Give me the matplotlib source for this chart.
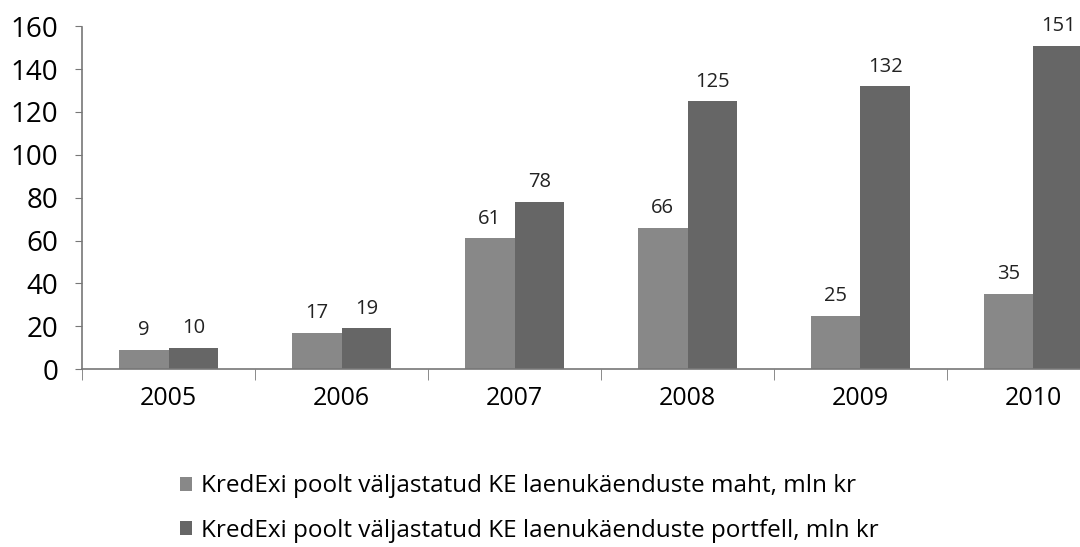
import numpy as np
import matplotlib.pyplot as plt

plt.rcParams['font.family'] = ['Open Sans', 'DejaVu Sans']

years = ['2005', '2006', '2007', '2008', '2009', '2010']
maht = [9, 17, 61, 66, 25, 35]
portfell = [10, 19, 78, 125, 132, 151]
labels = ['KredExi poolt väljastatud KE laenukäenduste maht, mln kr',
          'KredExi poolt väljastatud KE laenukäenduste portfell, mln kr']

fig = plt.figure(figsize=(10.8, 5.47), dpi=100)
ax = fig.add_axes([0.076, 0.325, 0.961, 0.627])

x = np.arange(len(years))
w = 0.287
b1 = ax.bar(x - w / 2, maht, w, color='#888888', label=labels[0])
b2 = ax.bar(x + w / 2, portfell, w, color='#666666', label=labels[1])

for bars in (b1, b2):
    for r in bars:
        ax.annotate(str(int(r.get_height())), (r.get_x() + r.get_width() / 2, r.get_height()),
                    xytext=(0, 7), textcoords='offset points', ha='center', va='bottom',
                    fontsize=14.5, color='#222222')

ax.set_xlim(-0.5, 5.5)
ax.set_ylim(0, 160)
ax.set_yticks(range(0, 161, 20))
ax.set_xticks(x)
ax.set_xticklabels(years)
ax.set_xticks(np.arange(-0.5, 5.6, 1), minor=True)
ax.tick_params(axis='x', which='major', length=0, pad=12, labelsize=18)
ax.tick_params(axis='x', which='minor', length=8, color='#777777', direction='out')
ax.tick_params(axis='y', length=5, color='#777777', labelsize=20, pad=12)

for s in ['top', 'right']:
    ax.spines[s].set_visible(False)
for s in ['left', 'bottom']:
    ax.spines[s].set_color('#777777')
    ax.spines[s].set_linestyle((0, (1, 1)))
    ax.spines[s].set_linewidth(1.2)

fig.legend(handles=[b1, b2], labels=labels, loc='center', bbox_to_anchor=(0.49, 0.07),
           frameon=False, fontsize=17.5, handlelength=0.5, handleheight=0.5,
           handletextpad=0.35, labelspacing=0.85)

fig.savefig('out.png', dpi=100)
